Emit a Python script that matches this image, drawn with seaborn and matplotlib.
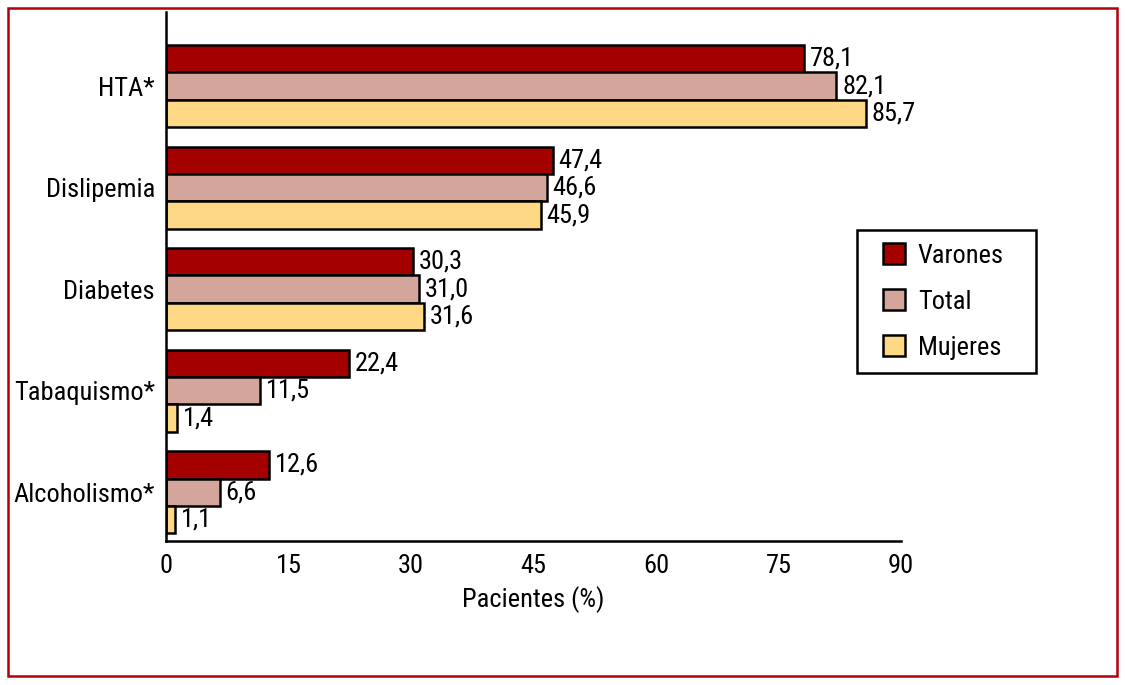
import matplotlib
matplotlib.use("Agg")
import matplotlib.pyplot as plt
import seaborn as sns
import pandas as pd
from matplotlib.patches import Rectangle
from matplotlib.legend_handler import HandlerPatch
from matplotlib import font_manager as fm

categories = ["HTA*", "Dislipemia", "Diabetes", "Tabaquismo*", "Alcoholismo*"]
series = ["Varones", "Total", "Mujeres"]
varones = [78.1, 47.4, 30.3, 22.4, 12.6]
total = [82.1, 46.6, 31.0, 11.5, 6.6]
mujeres = [85.7, 45.9, 31.6, 1.4, 1.1]
xticks = [0, 15, 30, 45, 60, 75, 90]
colors = ["#A50000", "#D4A59A", "#FFD885"]

sns.set_theme(style="white")
available = set(f.name for f in fm.fontManager.ttflist)
candidates = ["Liberation Sans Narrow", "Arial Narrow", "Roboto Condensed",
              "Archivo Narrow", "PT Sans Narrow", "Open Sans Condensed",
              "IBM Plex Sans Condensed", "Fira Sans Condensed", "Encode Sans Condensed",
              "Asap Condensed", "Barlow Semi Condensed", "Sofia Sans Condensed"]
chosen = [c for c in candidates if c in available][:1]
plt.rcParams['font.family'] = chosen + ['DejaVu Sans']
plt.rcParams['text.color'] = 'black'
plt.rcParams['xtick.color'] = 'black'
plt.rcParams['ytick.color'] = 'black'
plt.rcParams['axes.labelcolor'] = 'black'

FS = 19

rows = []
for name, vals in zip(series, [varones, total, mujeres]):
    for c, v in zip(categories, vals):
        rows.append({"cat": c, "serie": name, "val": v})
df = pd.DataFrame(rows)

fig = plt.figure(figsize=(11.25, 6.85), dpi=100)
ax = fig.add_axes([0.1476, 0.2102, 0.8009 - 0.1476, 0.9825 - 0.2102])

sns.barplot(data=df, y="cat", x="val", hue="serie", order=categories,
            hue_order=series, palette=colors, orient="h", width=0.81,
            edgecolor="black", linewidth=1.8, ax=ax, saturation=1)

for cont in ax.containers:
    labels = [f"{b.get_width():.1f}".replace(".", ",") for b in cont]
    ax.bar_label(cont, labels=labels, padding=4, fontsize=FS, color="black")

ax.set_xlim(0, 90)
ax.set_ylim(4.48, -0.73)
ax.set_xticks(xticks)
ax.set_xticklabels([str(t) for t in xticks], fontsize=FS)
ax.tick_params(axis="x", direction="out", length=8, width=1.8, color="black", pad=1.5)
ax.tick_params(axis="y", length=0, pad=8, labelsize=FS)
ax.set_xlabel("Pacientes (%)", fontsize=FS, labelpad=6)
ax.set_ylabel("")
for s in ["top", "right"]:
    ax.spines[s].set_visible(False)
for s in ["left", "bottom"]:
    ax.spines[s].set_color("black")
    ax.spines[s].set_linewidth(1.8)


def square_right(legend, orig_handle, xdescent, ydescent, width, height, fontsize):
    return Rectangle((-xdescent + width - height, -ydescent), height, height)


handles, labels = ax.get_legend_handles_labels()
x0 = (857 - 166) / 735
w = (1036 - 857) / 735
ytop = 1 - (230 - 12) / 529
h = (374 - 230) / 529
leg = ax.legend(handles, labels, loc="upper left", bbox_to_anchor=(x0, ytop - h, w, h),
                mode="expand", frameon=True, fancybox=False, edgecolor="black", fontsize=FS,
                handlelength=1.3, handleheight=0.86, labelspacing=0.8,
                borderpad=0.5, handletextpad=0.5, borderaxespad=0,
                handler_map={type(handles[0]): HandlerPatch(patch_func=square_right)})
leg.get_frame().set_linewidth(1.8)
leg.get_frame().set_facecolor("white")
leg.get_frame().set_alpha(1)

fig.patches.append(Rectangle((8 / 1125, 1 - 676 / 685), (1117 - 8) / 1125, (676 - 8) / 685,
                             transform=fig.transFigure, fill=False,
                             edgecolor="#B0000A", linewidth=1.8))

fig.savefig("out.png", dpi=100)
